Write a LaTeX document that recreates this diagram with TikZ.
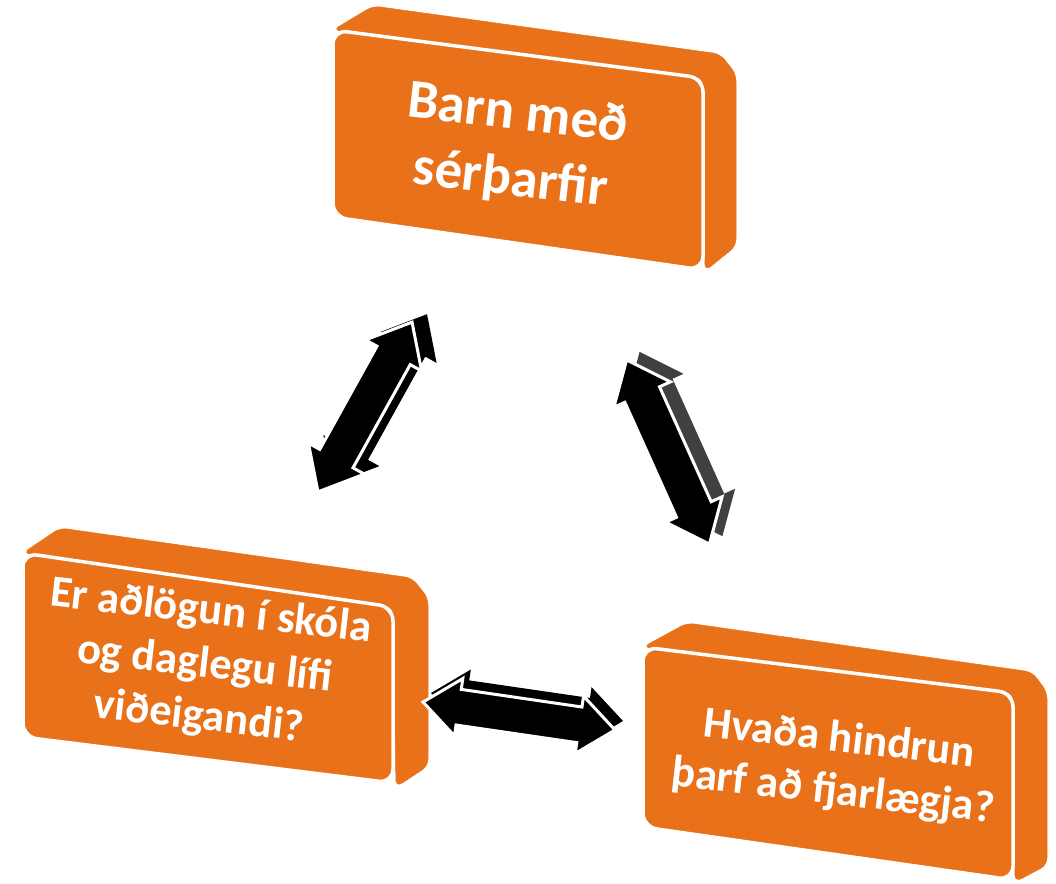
\documentclass[tikz,border=0pt]{standalone}
\usepackage{fontspec}
\setmainfont{Carlito}
\definecolor{boxorange}{RGB}{233,113,26}
\tikzset{
  slab/.style={fill=boxorange, draw=boxorange, line width=0.5pt, rounded corners=7pt},
  face/.style={fill=boxorange, draw=white, line width=3.5pt, rounded corners=14pt},
  boxtext/.style={text=white, font=\bfseries\fontsize{44.5}{53}\selectfont, align=center, rotate=-6.5, inner sep=0pt},
  arrowfront/.style={fill=black, draw=white, line width=3pt, line join=miter},
  arrowback/.style={fill=black},
  arrowbackgray/.style={fill=black!75},
  pics/dblarrow/.style args={#1/#2/#3/#4}{code={
    \path[pic actions] (-#1,0) -- (-#1+#2,-#3) -- (-#1+#2,-#4) -- (#1-#2,-#4) -- (#1-#2,-#3)
      -- (#1,0) -- (#1-#2,#3) -- (#1-#2,#4) -- (-#1+#2,#4) -- (-#1+#2,#3) -- cycle;
  }},
}
\begin{document}
\begin{tikzpicture}[x=1pt,y=-1pt]
\useasboundingbox[fill=white] (0,0) rectangle (1056,883);

% ---- top box
\path[slab] (333,30) -- (373,6) -- (720,54) -- (736,74) -- (736,246) -- (705,271) -- (703,78) -- cycle;
\path[face] (333,30) -- (703,78) -- (703,270) -- (333,217) -- cycle;
\node[boxtext, font=\bfseries\fontsize{55}{66}\selectfont] (top) at (514,148) {Barn með\\sérþarfir};

% ---- left box
\path[slab] (23,553) -- (60,528) -- (412,578) -- (428,598) -- (428,766) -- (396,787) -- (393,607) -- cycle;
\path[face] (23,553) -- (393,607) -- (393,783) -- (23,737) -- cycle;
\node[boxtext] (left) at (205,665) {Er aðlögun í skóla\\og daglegu lífi\\viðeigandi?};

% ---- right box
\path[slab] (643,647) -- (687,623) -- (1032,672) -- (1047,692) -- (1047,865) -- (1015,882) -- (1013,693) -- cycle;
\path[face] (643,647) -- (1013,693) -- (1013,880) -- (643,827) -- cycle;
\node[boxtext] (right) at (836,766) {Hvaða hindrun\\þarf að fjarlægja?};

% ---- arrow top <-> left
\pic[arrowback, rotate=61] at (380,399) {dblarrow=97/38/32/19};
\pic[arrowfront, rotate=61] (a1) at (365,407) {dblarrow=97/38/32/19};

% ---- arrow top <-> right
\pic[arrowbackgray, rotate=-65.8] at (681,444) {dblarrow=101/38/31/19};
\pic[arrowfront, rotate=-65.8] (a2) at (668,452) {dblarrow=101/38/31/19};

% ---- arrow left <-> right
\pic[arrowback, rotate=-8.3] at (527,707) {dblarrow=97/36/29/18};
\pic[arrowfront, rotate=-8.3] (a3) at (519,716) {dblarrow=97/36/29/18};
\end{tikzpicture}
\end{document}
